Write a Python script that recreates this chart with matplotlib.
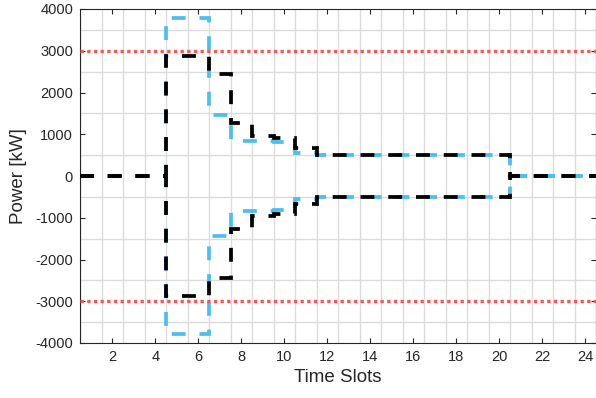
import numpy as np
import matplotlib
matplotlib.use('Agg')
import matplotlib.pyplot as plt

plt.rcParams['font.family'] = ['Liberation Sans', 'DejaVu Sans']
plt.rcParams['axes.unicode_minus'] = False

# time slots 1..24, each value holds over [t-0.5, t+0.5]
slots = np.arange(1, 25)
black_up = [0, 0, 0, 0, 2880, 2880, 2450, 1280, 950, 920, 660,
            500, 500, 500, 500, 500, 500, 500, 500, 500, 0, 0, 0, 0]
black_lo = [0, 0, 0, 0, -2880, -2880, -2450, -1280, -950, -920, -660,
            -500, -500, -500, -500, -500, -500, -500, -500, -500, 0, 0, 0, 0]
blue_up = [0, 0, 0, 0, 3780, 3780, 1450, 850, 830, 810, 550,
           500, 500, 500, 500, 500, 500, 500, 500, 500, 0, 0, 0, 0]
blue_lo = [0, 0, 0, 0, -3780, -3780, -1440, -850, -830, -810, -550,
           -500, -500, -500, -500, -500, -500, -500, -500, -500, 0, 0, 0, 0]
limits = [3000, -3000]

x_ticks = np.arange(2, 25, 2)
y_ticks = np.arange(-4000, 4001, 1000)

dark = '#262626'
blue = '#4DBEEE'

fig = plt.figure(figsize=(5.96, 3.98), dpi=100)
ax = fig.add_axes([80/596, 55/398, 516/596, 334/398])

edges = np.append(slots - 0.5, slots[-1] + 0.5)
dash = (0, (3.7, 3.7))
for vals in (blue_up, blue_lo):
    ax.stairs(vals, edges, baseline=None, color=blue, linewidth=2.7,
              linestyle=dash, zorder=3)
for vals in (black_up, black_lo):
    ax.stairs(vals, edges, baseline=None, color='black', linewidth=2.7,
              linestyle=dash, zorder=4)
for v in limits:
    ax.axhline(v, color='#FF5555', linewidth=2.4, linestyle=(0, (1, 1)), zorder=5)

ax.set_xlim(0.5, 24.5)
ax.set_ylim(-4000, 4000)
ax.set_xticks(x_ticks)
ax.set_yticks(y_ticks)
ax.set_xticks(np.arange(0.5, 24.6, 1), minor=True)
ax.set_yticks(np.arange(-4000, 4001, 500), minor=True)
ax.grid(False, which='major')
ax.grid(True, which='minor', color='#DCDCDC', linewidth=1.0)
ax.set_axisbelow(True)
ax.tick_params(which='major', direction='in', length=3.5, width=0.8,
               top=True, right=True, colors=dark, labelsize=10.5, pad=5)
ax.tick_params(which='minor', length=0)
for s in ax.spines.values():
    s.set_color(dark)
    s.set_linewidth(0.8)

ax.set_xlabel('Time Slots', fontsize=13.5, color=dark, labelpad=4)
ax.set_ylabel('Power [kW]', fontsize=13.5, color=dark, labelpad=6)

fig.savefig('out.png', dpi=100)
